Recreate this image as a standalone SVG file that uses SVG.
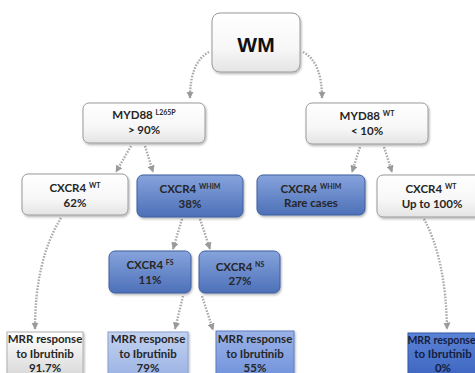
<svg xmlns="http://www.w3.org/2000/svg" width="475" height="373" viewBox="0 0 475 373">
<defs>
<linearGradient id="gW" x1="0" y1="0" x2="0" y2="1"><stop offset="0" stop-color="#ffffff"/><stop offset="0.6" stop-color="#f7f7f7"/><stop offset="1" stop-color="#e4e4e4"/></linearGradient>
<linearGradient id="gB" x1="0" y1="0" x2="0" y2="1"><stop offset="0" stop-color="#86a3dc"/><stop offset="1" stop-color="#4d70b8"/></linearGradient>
<linearGradient id="gG" x1="0" y1="0" x2="0" y2="1"><stop offset="0" stop-color="#ffffff"/><stop offset="1" stop-color="#d8d8d8"/></linearGradient>
<linearGradient id="gL" x1="0" y1="0" x2="0" y2="1"><stop offset="0" stop-color="#c3d2f0"/><stop offset="1" stop-color="#9bb3e4"/></linearGradient>
<linearGradient id="gM" x1="0" y1="0" x2="0" y2="1"><stop offset="0" stop-color="#9bb2e8"/><stop offset="1" stop-color="#7193dc"/></linearGradient>
<linearGradient id="gD" x1="0" y1="0" x2="0" y2="1"><stop offset="0" stop-color="#5a82d6"/><stop offset="1" stop-color="#3e66c0"/></linearGradient>
<filter id="sh" x="-10%" y="-10%" width="130%" height="140%"><feDropShadow dx="1" dy="1.5" stdDeviation="1.2" flood-color="#000" flood-opacity="0.3"/></filter>
<marker id="ar" viewBox="0 0 10 10" refX="9" refY="5" markerWidth="3" markerHeight="3" orient="auto" markerUnits="strokeWidth"><path d="M0,0 L10,5 L0,10 z" fill="#9a9a9a"/></marker>
</defs>
<style>
.w{fill:url(#gW);stroke:#9a9a9a;stroke-width:1;filter:url(#sh)}
.b{fill:url(#gB);stroke:#3f5f9f;stroke-width:1;filter:url(#sh)}
.t{font-family:Lato,"Liberation Sans",sans-serif;font-weight:bold;font-size:11.5px;fill:#262626;text-anchor:middle}
.s{font-size:7px}
.c{fill:none;stroke:#ababab;stroke-width:2.4;stroke-dasharray:1.6 1.4;marker-end:url(#ar)}
.r{stroke-width:1;filter:url(#sh)}
</style>
<rect width="475" height="373" fill="#ffffff"/>
<g id="connectors">
<path class="c" d="M209,52 Q190,62 190,98"/>
<path class="c" d="M303,52 Q322,62 322,98"/>
<path class="c" d="M131,146 L116,172"/>
<path class="c" d="M145,146 L153,172"/>
<path class="c" d="M360,147 L352,172"/>
<path class="c" d="M384,147 L392,172"/>
<path class="c" d="M182,219 L173,249"/>
<path class="c" d="M200,219 L210,249"/>
<path class="c" d="M61,218 Q35,260 35,329"/>
<path class="c" d="M183,296 L175,329"/>
<path class="c" d="M202,296 L213,330"/>
<path class="c" d="M424,219 Q446,260 447,329"/>
</g>
<g id="wm"><rect class="w" x="212" y="13" width="88" height="59" rx="8"/><text class="t" x="256" y="52" style="font-family:'Liberation Sans',Arial,sans-serif;font-size:21px;fill:#111">WM</text></g>
<g id="myd88-l265p"><rect class="w" x="83" y="103" width="122" height="40" rx="6"/><text class="t" x="144" y="119">MYD88 <tspan class="s" dy="-4">L265P</tspan></text><text class="t" x="144" y="134">&gt; 90%</text></g>
<g id="myd88-wt"><rect class="w" x="306" y="103" width="122" height="41" rx="6"/><text class="t" x="367" y="120">MYD88 <tspan class="s" dy="-4">WT</tspan></text><text class="t" x="367" y="135">&lt; 10%</text></g>
<g id="cxcr4-wt-left"><rect class="w" x="22" y="174" width="106" height="41" rx="6"/><text class="t" x="75" y="192">CXCR4 <tspan class="s" dy="-4">WT</tspan></text><text class="t" x="75" y="207">62%</text></g>
<g id="cxcr4-whim-38"><rect class="b" x="137" y="175" width="106" height="42" rx="6"/><text class="t" x="190" y="193">CXCR4 <tspan class="s" dy="-4">WHIM</tspan></text><text class="t" x="190" y="208">38%</text></g>
<g id="cxcr4-whim-rare"><rect class="b" x="257" y="175" width="108" height="40" rx="6"/><text class="t" x="311" y="193">CXCR4 <tspan class="s" dy="-4">WHIM</tspan></text><text class="t" x="311" y="207">Rare cases</text></g>
<g id="cxcr4-wt-right"><rect class="w" x="377" y="175" width="110" height="42" rx="6"/><text class="t" x="431" y="193">CXCR4 <tspan class="s" dy="-4">WT</tspan></text><text class="t" x="432" y="208">Up to 100%</text></g>
<g id="cxcr4-fs"><rect class="b" x="109" y="251" width="82" height="42" rx="6"/><text class="t" x="150" y="269">CXCR4 <tspan class="s" dy="-4">FS</tspan></text><text class="t" x="150" y="284">11%</text></g>
<g id="cxcr4-ns"><rect class="b" x="199" y="251" width="81" height="42" rx="6"/><text class="t" x="240" y="271">CXCR4 <tspan class="s" dy="-4">NS</tspan></text><text class="t" x="240" y="285">27%</text></g>
<g id="mrr-917"><rect class="r" x="7" y="332" width="76" height="45" fill="url(#gG)" stroke="#b0b0b0"/><text class="t" x="45" y="343">MRR response</text><text class="t" x="45" y="358">to Ibrutinib</text><text class="t" x="45" y="372">91.7%</text></g>
<g id="mrr-79"><rect class="r" x="108" y="332" width="80" height="45" fill="url(#gL)" stroke="#8aa0cc"/><text class="t" x="148" y="343">MRR response</text><text class="t" x="148" y="358">to Ibrutinib</text><text class="t" x="148" y="372">79%</text></g>
<g id="mrr-55"><rect class="r" x="216" y="331" width="78" height="46" fill="url(#gM)" stroke="#5c7cc0"/><text class="t" x="255" y="343">MRR response</text><text class="t" x="255" y="358">to Ibrutinib</text><text class="t" x="255" y="372">55%</text></g>
<g id="mrr-0"><rect class="r" x="408" y="333" width="80" height="45" fill="url(#gD)" stroke="#3358a8"/><text class="t" x="441.5" y="344" style="fill:#14203f;font-size:10.5px">MRR response</text><text class="t" x="443" y="358" style="fill:#14203f">to Ibrutinib</text><text class="t" x="443" y="372" style="fill:#14203f">0%</text></g>
</svg>
